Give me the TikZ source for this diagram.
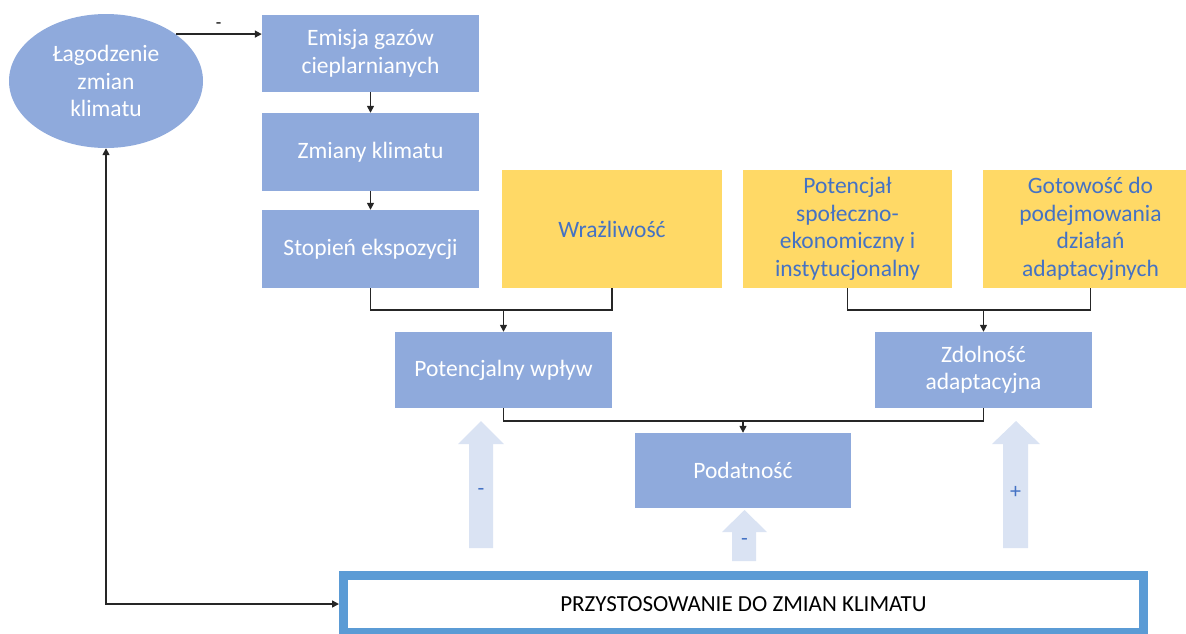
\documentclass[tikz,border=0pt]{standalone}
\usepackage{fontspec}
\setmainfont{Carlito}
\usetikzlibrary{shapes.geometric,arrows.meta}
\definecolor{boxblue}{HTML}{8FAADC}
\definecolor{boxyellow}{HTML}{FFD966}
\definecolor{txtblue}{HTML}{4472C4}
\definecolor{arrowfill}{HTML}{DAE3F3}
\definecolor{frameblue}{HTML}{5B9BD5}
\definecolor{linegray}{HTML}{262626}
\tikzset{
  bluebox/.style={fill=boxblue, text=white, align=center, inner sep=0pt,
    font=\fontsize{23.5}{27.5}\selectfont},
  yellowbox/.style={fill=boxyellow, text=txtblue, align=center, inner sep=0pt,
    font=\fontsize{23.5}{27.5}\selectfont},
  conn/.style={draw=linegray, line width=1.5pt},
  arr/.style={conn, -{Triangle[length=7pt,width=7pt]}},
  blockarrow/.style={fill=arrowfill, draw=none},
  signlabel/.style={text=txtblue, font=\fontsize{22}{24}\selectfont},
}
\begin{document}
\begin{tikzpicture}[x=1pt,y=-1pt]
\useasboundingbox (0,0) rectangle (1186,633);
% nodes
\node[ellipse, fill=boxblue, text=white, align=center, inner sep=0pt,
  minimum width=194pt, minimum height=134pt,
  font=\fontsize{23.5}{27.5}\selectfont] (ell) at (106,81) {Łagodzenie\\zmian\\klimatu};
\node[bluebox, minimum width=217pt, minimum height=77pt] (emis) at (370.5,53.5) {Emisja gazów\\cieplarnianych};
\node[bluebox, minimum width=217pt, minimum height=78pt] (zmiany) at (370.5,152) {Zmiany klimatu};
\node[bluebox, minimum width=217pt, minimum height=78pt] (stop) at (370.5,249) {Stopień ekspozycji};
\node[yellowbox, minimum width=220pt, minimum height=118pt] (wraz) at (612,229) {Wrażliwość};
\node[yellowbox, minimum width=209pt, minimum height=118pt] (pot) at (847.5,229) {Potencjał\\społeczno-\\ekonomiczny i\\instytucjonalny};
\node[yellowbox, minimum width=215pt, minimum height=118pt] (got) at (1090.5,229) {Gotowość do\\podejmowania\\działań\\adaptacyjnych};
\node[bluebox, minimum width=217pt, minimum height=76pt] (pw) at (503.5,370) {Potencjalny wpływ};
\node[bluebox, minimum width=217pt, minimum height=76pt] (zd) at (983.5,370) {Zdolność\\adaptacyjna};
\node[bluebox, minimum width=216pt, minimum height=75pt] (pod) at (743,470.5) {Podatność};
\node[draw=frameblue, line width=9pt, fill=white, inner sep=0pt,
  minimum width=800pt, minimum height=57pt,
  font=\fontsize{23}{26}\selectfont] (adapt) at (743.5,604) {PRZYSTOSOWANIE DO ZMIAN KLIMATU};
% junctions
\coordinate (j1) at (503.5,310);
\coordinate (j2) at (983.5,310);
\coordinate (j3) at (743,421);
% connectors
\draw[arr] (ell.34) -- node[above, pos=0.5, font=\fontsize{18}{20}\selectfont, yshift=1pt] {-} (ell.34 -| emis.west);
\draw[arr] (emis.south) -- (zmiany.north);
\draw[arr] (zmiany.south) -- (stop.north);
\draw[conn] (stop.south) |- (j1) -| (wraz.south);
\draw[arr] (j1) -- (pw.north);
\draw[conn] (pot.south) |- (j2) -| (got.south);
\draw[arr] (j2) -- (zd.north);
\draw[conn] (pw.south) |- (j3) -| (zd.south);
\draw[arr] (j3) -- (pod.north);
\draw[conn, {Triangle[length=7pt,width=7pt]}-{Triangle[length=7pt,width=7pt]}] (ell.south) |- (adapt.west);
% block arrows
\fill[blockarrow] (481,421) -- (504,444) -- (493,444) -- (493,548) -- (469,548) -- (469,444) -- (458,444) -- cycle;
\fill[blockarrow] (744.5,510) -- (767,532) -- (756,532) -- (756,561) -- (732,561) -- (732,532) -- (722,532) -- cycle;
\fill[blockarrow] (1016,421) -- (1040,444) -- (1028,444) -- (1028,548) -- (1003,548) -- (1003,444) -- (992,444) -- cycle;
\node[signlabel] (s1) at (481,492) {-};
\node[signlabel] (s2) at (744.5,542) {-};
\node[signlabel] (s3) at (1015.5,492) {+};
\end{tikzpicture}
\end{document}
